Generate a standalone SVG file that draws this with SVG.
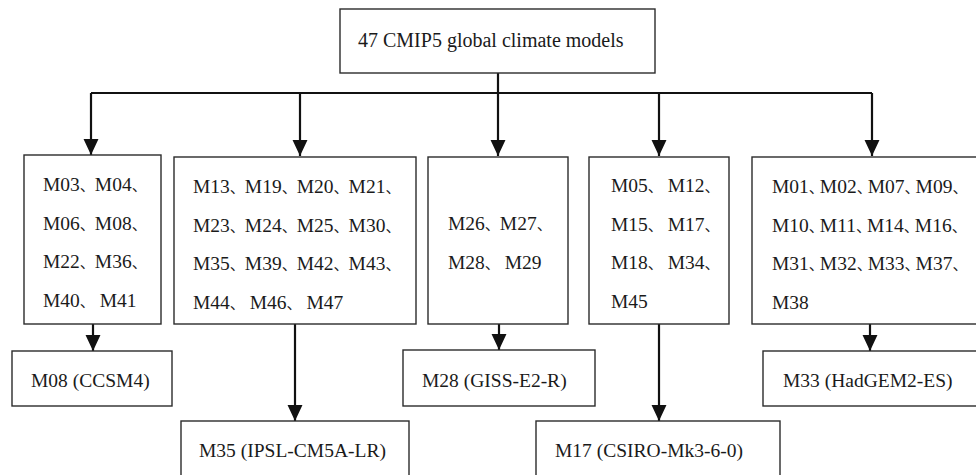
<svg xmlns="http://www.w3.org/2000/svg" width="976" height="475" viewBox="0 0 976 475">
<defs>
<marker id="ah" markerUnits="userSpaceOnUse" markerWidth="16" markerHeight="16" viewBox="0 0 15 14" refX="15" refY="7" orient="auto">
<path d="M0,0 L15,7 L0,14 Z" fill="#111"/>
</marker>
<style>
.box{fill:#fff;stroke:#2b2b2b;stroke-width:1.4}
.t{font-family:'Liberation Serif','DejaVu Serif',serif;font-size:19.5px;fill:#1a1a1a}
.c{font-family:'Noto Sans CJK SC','Noto Sans CJK JP',sans-serif;font-size:15px}
.c2{font-family:'Noto Sans CJK SC','Noto Sans CJK JP',sans-serif;font-size:15px;letter-spacing:-4px}
.ln{fill:none;stroke:#111;stroke-width:2.2}
</style>
</defs>
<rect width="976" height="475" fill="#fff"/>
<g id="connectors">
<path class="ln" d="M498,73 V93 M91,93 H872"/>
<path class="ln" d="M91,93 V155" marker-end="url(#ah)"/>
<path class="ln" d="M300,93 V156" marker-end="url(#ah)"/>
<path class="ln" d="M498,93 V156" marker-end="url(#ah)"/>
<path class="ln" d="M659,93 V156" marker-end="url(#ah)"/>
<path class="ln" d="M872,93 V156" marker-end="url(#ah)"/>
<path class="ln" d="M93,324 V351" marker-end="url(#ah)"/>
<path class="ln" d="M295,324 V421" marker-end="url(#ah)"/>
<path class="ln" d="M499,324 V350" marker-end="url(#ah)"/>
<path class="ln" d="M659,324 V421" marker-end="url(#ah)"/>
<path class="ln" d="M870,324 V351" marker-end="url(#ah)"/>
</g>
<g id="root">
<rect class="box" x="340" y="9" width="315" height="64"/>
<text class="t" x="358" y="47" style="font-size:20px">47 CMIP5 global climate models</text>
</g>
<g id="g1">
<rect class="box" x="24" y="155" width="137" height="169"/>
<text class="t" x="43" y="191">M03<tspan class="c">、</tspan>M04<tspan class="c">、</tspan></text>
<text class="t" x="43" y="230">M06<tspan class="c">、</tspan>M08<tspan class="c">、</tspan></text>
<text class="t" x="43" y="268">M22<tspan class="c">、</tspan>M36<tspan class="c">、</tspan></text>
<text class="t" x="43" y="307">M40<tspan class="c">、</tspan> M41</text>
</g>
<g id="g2">
<rect class="box" x="174" y="157" width="242" height="167"/>
<text class="t" x="193" y="193">M13<tspan class="c">、</tspan>M19<tspan class="c">、</tspan>M20<tspan class="c">、</tspan>M21<tspan class="c">、</tspan></text>
<text class="t" x="193" y="232">M23<tspan class="c">、</tspan>M24<tspan class="c">、</tspan>M25<tspan class="c">、</tspan>M30<tspan class="c">、</tspan></text>
<text class="t" x="193" y="270">M35<tspan class="c">、</tspan>M39<tspan class="c">、</tspan>M42<tspan class="c">、</tspan>M43<tspan class="c">、</tspan></text>
<text class="t" x="193" y="309">M44<tspan class="c">、</tspan> M46<tspan class="c">、</tspan> M47</text>
</g>
<g id="g3">
<rect class="box" x="428" y="157" width="140" height="167"/>
<text class="t" x="448" y="230">M26<tspan class="c">、</tspan>M27<tspan class="c">、</tspan></text>
<text class="t" x="448" y="269">M28<tspan class="c">、</tspan> M29</text>
</g>
<g id="g4">
<rect class="box" x="589" y="157" width="140" height="167"/>
<text class="t" x="611" y="192">M05<tspan class="c">、</tspan> M12<tspan class="c">、</tspan></text>
<text class="t" x="611" y="231">M15<tspan class="c">、</tspan> M17<tspan class="c">、</tspan></text>
<text class="t" x="611" y="269">M18<tspan class="c">、</tspan> M34<tspan class="c">、</tspan></text>
<text class="t" x="611" y="308">M45</text>
</g>
<g id="g5">
<rect class="box" x="752" y="157" width="240" height="167"/>
<text class="t" x="772" y="193">M01<tspan class="c2">、</tspan>M02<tspan class="c2">、</tspan>M07<tspan class="c2">、</tspan>M09<tspan class="c2">、</tspan></text>
<text class="t" x="772" y="232">M10<tspan class="c2">、</tspan>M11<tspan class="c2">、</tspan>M14<tspan class="c2">、</tspan>M16<tspan class="c2">、</tspan></text>
<text class="t" x="772" y="270">M31<tspan class="c2">、</tspan>M32<tspan class="c2">、</tspan>M33<tspan class="c2">、</tspan>M37<tspan class="c2">、</tspan></text>
<text class="t" x="772" y="309">M38</text>
</g>
<g id="r1">
<rect class="box" x="12" y="351" width="160" height="55"/>
<text class="t" x="31" y="387">M08 (CCSM4)</text>
</g>
<g id="r2">
<rect class="box" x="181" y="421" width="228" height="70"/>
<text class="t" x="199" y="457">M35 (IPSL-CM5A-LR)</text>
</g>
<g id="r3">
<rect class="box" x="403" y="350" width="192" height="56"/>
<text class="t" x="422" y="387">M28 (GISS-E2-R)</text>
</g>
<g id="r4">
<rect class="box" x="536" y="421" width="244" height="70"/>
<text class="t" x="555" y="457">M17 (CSIRO-Mk3-6-0)</text>
</g>
<g id="r5">
<rect class="box" x="763" y="351" width="230" height="55"/>
<text class="t" x="783" y="387">M33 (HadGEM2-ES)</text>
</g>
</svg>
